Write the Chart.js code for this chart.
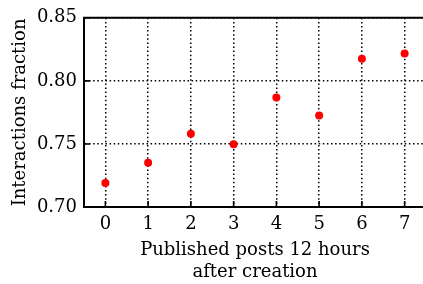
<!DOCTYPE html>
<html>
<head>
<meta charset="utf-8">
<script src="https://cdn.jsdelivr.net/npm/chart.js@4/dist/chart.umd.min.js"></script>
<style>
  html, body { margin: 0; padding: 0; background: #fff; overflow: hidden; }
  #wrap { width: 423px; height: 284px; overflow: hidden; }
</style>
</head>
<body>
<div id="wrap"><canvas id="chart" width="430" height="284"></canvas></div>
<script>
const categories = ["0", "1", "2", "3", "4", "5", "6", "7"];
const fractions = [0.719, 0.735, 0.758, 0.7497, 0.7868, 0.7725, 0.8176, 0.8217];
const yTicks = [0.70, 0.75, 0.80, 0.85];

Chart.defaults.font.family = "'DejaVu Serif', serif";
Chart.defaults.font.size = 18;
Chart.defaults.color = "#000";

// top frame line + inward tick marks, like the matplotlib original
const frame = {
  id: "frame",
  afterDraw(chart) {
    const { ctx, chartArea: a, scales } = chart;
    ctx.save();
    ctx.strokeStyle = "#000";
    ctx.lineWidth = 2;
    ctx.beginPath();
    ctx.moveTo(a.left - 1, a.top);
    ctx.lineTo(a.right + 1, a.top);
    ctx.stroke();
    ctx.lineWidth = 1.6;
    ctx.beginPath();
    scales.x.ticks.forEach((t, i) => {
      const px = scales.x.getPixelForTick(i);
      ctx.moveTo(px, a.bottom);
      ctx.lineTo(px, a.bottom - 6);
    });
    scales.y.ticks.forEach((t, i) => {
      const py = scales.y.getPixelForTick(i);
      ctx.moveTo(a.left, py);
      ctx.lineTo(a.left + 6, py);
    });
    ctx.stroke();
    ctx.restore();
  }
};

const grid = { color: "#000", lineWidth: 1.5, drawTicks: false };
const border = { display: true, color: "#000", width: 2, dash: [1.5, 2.6] };

new Chart(document.getElementById("chart"), {
  type: "line",
  data: {
    labels: categories,
    datasets: [{
      data: fractions,
      showLine: false,
      pointRadius: 4,
      pointHoverRadius: 4,
      pointBackgroundColor: "#ff0000",
      pointBorderWidth: 0,
    }],
  },
  options: {
    responsive: false,
    animation: false,
    layout: { padding: { left: 0, top: 16, right: 4, bottom: 0 } },
    plugins: { legend: { display: false }, tooltip: { enabled: false } },
    scales: {
      x: {
        offset: true,
        grid: { ...grid, offset: false },
        border,
        ticks: { padding: 7, maxRotation: 0 },
        title: { display: true, text: ["Published posts 12 hours", "after creation"], padding: { top: 0, bottom: 1 } },
        afterFit: (s) => { s.height = 77; },
      },
      y: {
        min: 0.70,
        max: 0.85,
        afterBuildTicks: (s) => { s.ticks = yTicks.map((v) => ({ value: v })); },
        grid,
        border,
        ticks: { padding: 7, callback: (v) => Number(v).toFixed(2) },
        title: { display: true, text: "Interactions fraction", padding: { top: 10, bottom: 0 } },
        afterFit: (s) => { s.width = 84; },
      },
    },
  },
  plugins: [frame],
});
</script>
</body>
</html>
